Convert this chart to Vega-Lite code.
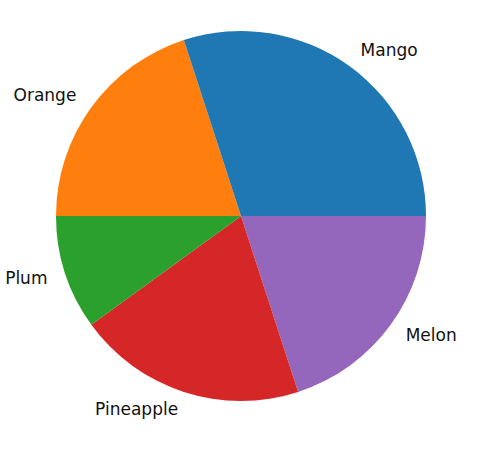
{
  "$schema": "https://vega.github.io/schema/vega-lite/v6.json",
  "width": 482,
  "height": 432,
  "padding": 0,
  "autosize": "none",
  "background": "white",
  "data": {
    "values": [
      {"fruit": "Melon", "value": 20, "order": 1},
      {"fruit": "Pineapple", "value": 20, "order": 2},
      {"fruit": "Plum", "value": 10, "order": 3},
      {"fruit": "Orange", "value": 20, "order": 4},
      {"fruit": "Mango", "value": 30, "order": 5}
    ]
  },
  "encoding": {
    "theta": {"field": "value", "type": "quantitative", "stack": true, "scale": {"range": [1.5708, 7.854]}},
    "order": {"field": "order", "type": "quantitative"}
  },
  "layer": [
    {
      "mark": {"type": "arc", "outerRadius": 185, "stroke": null},
      "encoding": {
        "color": {
          "field": "fruit",
          "type": "nominal",
          "scale": {
            "domain": ["Mango", "Orange", "Plum", "Pineapple", "Melon"],
            "range": ["#1f77b4", "#ff7f0e", "#2ca02c", "#d62728", "#9467bd"]
          },
          "legend": null
        }
      }
    },
    {
      "mark": {"type": "text", "radius": 203.5, "align": "left", "baseline": "middle", "font": "DejaVu Sans", "fontSize": 17, "color": "#111111"},
      "encoding": {
        "text": {"field": "fruit"},
        "opacity": {"condition": {"test": "datum.fruit === 'Mango' || datum.fruit === 'Melon'", "value": 1}, "value": 0}
      }
    },
    {
      "mark": {"type": "text", "radius": 203.5, "align": "right", "baseline": "middle", "font": "DejaVu Sans", "fontSize": 17, "color": "#111111"},
      "encoding": {
        "text": {"field": "fruit"},
        "opacity": {"condition": {"test": "datum.fruit === 'Mango' || datum.fruit === 'Melon'", "value": 0}, "value": 1}
      }
    }
  ]
}
